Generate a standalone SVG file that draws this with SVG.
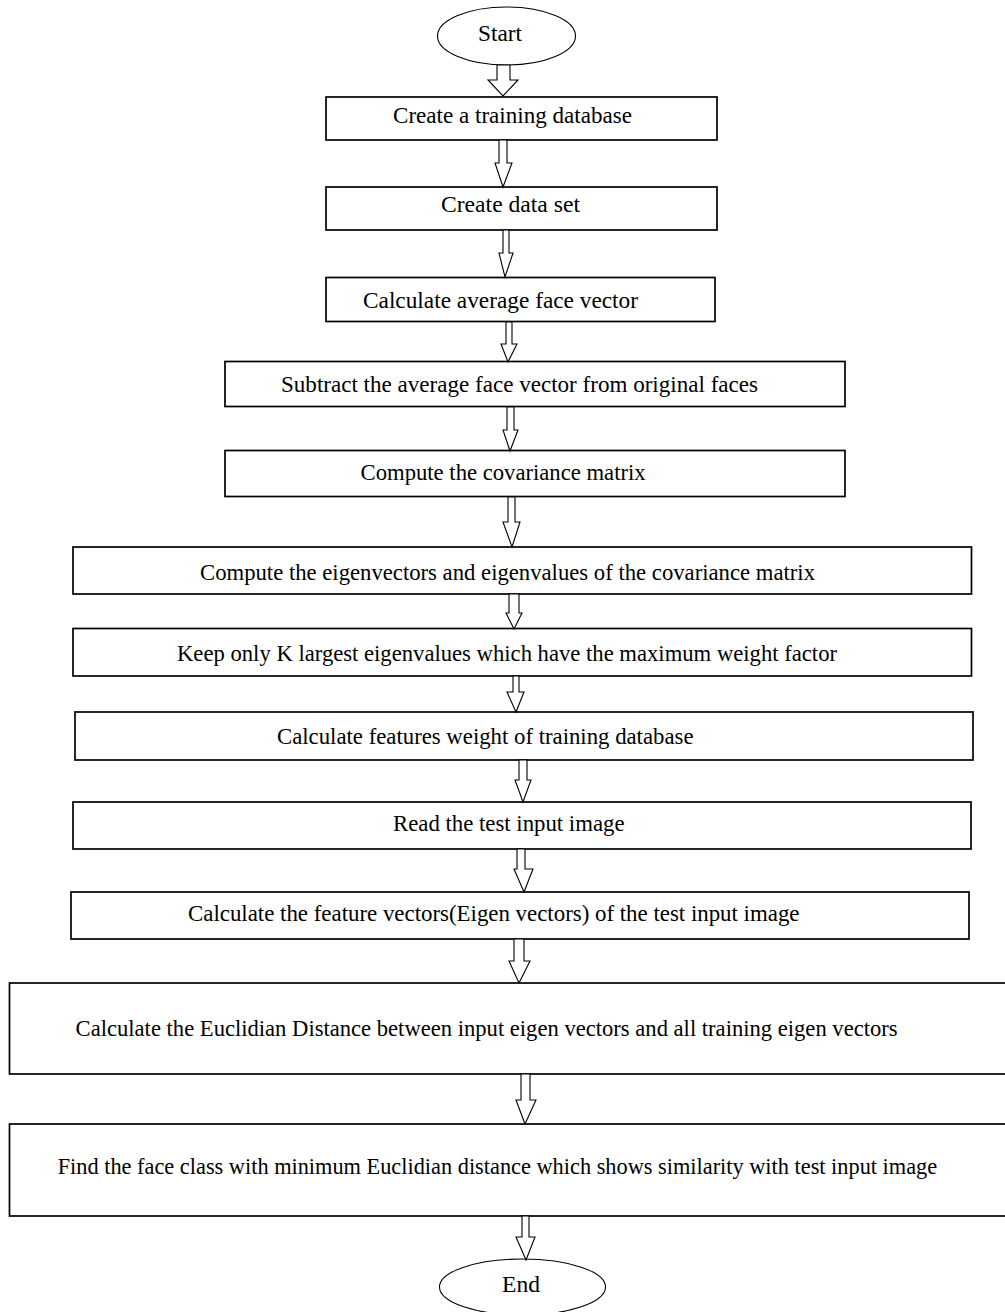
<svg xmlns="http://www.w3.org/2000/svg" width="1005" height="1312" viewBox="0 0 1005 1312">
<style>
.box{fill:#fff;stroke:#000;stroke-width:1.7}
.term{fill:#fff;stroke:#000;stroke-width:1.1}
.arr{fill:#fff;stroke:#000;stroke-width:1.1;stroke-linejoin:miter}
.t{font-family:"Liberation Serif","Times New Roman",serif;font-size:24px;fill:#000}
</style>
<rect width="1005" height="1312" fill="#fff"/>
<g id="start"><ellipse class="term" cx="506.5" cy="36" rx="69" ry="29"/><text class="t" x="478" y="41" textLength="44" lengthAdjust="spacingAndGlyphs">Start</text></g>
<g id="n1"><rect class="box" x="326" y="97" width="391" height="43"/><text class="t" x="393" y="123.3" textLength="239" lengthAdjust="spacingAndGlyphs">Create a training database</text></g>
<g id="n2"><rect class="box" x="326" y="187" width="391" height="43"/><text class="t" x="441" y="212" textLength="139" lengthAdjust="spacingAndGlyphs">Create data set</text></g>
<g id="n3"><rect class="box" x="326" y="277.5" width="389" height="44"/><text class="t" x="363" y="307.5" textLength="275" lengthAdjust="spacingAndGlyphs">Calculate average face vector</text></g>
<g id="n4"><rect class="box" x="225" y="361.5" width="620" height="45"/><text class="t" x="281" y="392" textLength="477" lengthAdjust="spacingAndGlyphs">Subtract the average face vector from original faces</text></g>
<g id="n5"><rect class="box" x="225" y="450.5" width="620" height="46"/><text class="t" x="360.6" y="480" textLength="285" lengthAdjust="spacingAndGlyphs">Compute the covariance matrix</text></g>
<g id="n6"><rect class="box" x="73" y="547" width="898.5" height="47"/><text class="t" x="200" y="580" textLength="615" lengthAdjust="spacingAndGlyphs">Compute the eigenvectors and eigenvalues of the covariance matrix</text></g>
<g id="n7"><rect class="box" x="73" y="628.5" width="898.5" height="47.5"/><text class="t" x="177" y="661" textLength="660" lengthAdjust="spacingAndGlyphs">Keep only K largest eigenvalues which have the maximum weight factor</text></g>
<g id="n8"><rect class="box" x="75" y="712" width="898" height="48"/><text class="t" x="277" y="743.5" textLength="416.5" lengthAdjust="spacingAndGlyphs">Calculate features weight of training database</text></g>
<g id="n9"><rect class="box" x="73" y="802" width="898" height="47"/><text class="t" x="393" y="831" textLength="231.5" lengthAdjust="spacingAndGlyphs">Read the test input image</text></g>
<g id="n10"><rect class="box" x="71" y="892" width="898" height="47"/><text class="t" x="188" y="921" textLength="611.5" lengthAdjust="spacingAndGlyphs">Calculate the feature vectors(Eigen vectors) of the test input image</text></g>
<g id="n11"><rect class="box" x="9.5" y="983" width="1000" height="91"/><text class="t" x="75.6" y="1036" textLength="822" lengthAdjust="spacingAndGlyphs">Calculate the Euclidian Distance between input eigen vectors and all training eigen vectors</text></g>
<g id="n12"><rect class="box" x="9.5" y="1124" width="1000" height="92"/><text class="t" x="57.7" y="1173.5" textLength="879.5" lengthAdjust="spacingAndGlyphs">Find the face class with minimum Euclidian distance which shows similarity with test input image</text></g>
<g id="end"><ellipse class="term" cx="522.5" cy="1287" rx="83" ry="28"/><text class="t" x="502" y="1292" textLength="38" lengthAdjust="spacingAndGlyphs">End</text></g>
<g id="connectors">
<polygon class="arr" points="497,65 510,65 510,80 518,80 503,96 488,80 497,80"/>
<polygon class="arr" points="499,140 507,140 507,163 512,163 503,187 495,163 499,163"/>
<polygon class="arr" points="503,230 509,230 509,253 513,253 505,277 499,253 503,253"/>
<polygon class="arr" points="506,322 512,322 512,344 517,344 508,362 501,344 506,344"/>
<polygon class="arr" points="507,407 514,407 514,430 518,430 510,451 503,430 507,430"/>
<polygon class="arr" points="508,497 515,497 515,522 520,522 512,547 503,522 508,522"/>
<polygon class="arr" points="509,594 519,594 519,613 522,613 514,629 506,613 509,613"/>
<polygon class="arr" points="513,676 519,676 519,692 524,692 516,712 507,692 513,692"/>
<polygon class="arr" points="519,760 527,760 527,780 531,780 523,802 515,780 519,780"/>
<polygon class="arr" points="517,849 525,849 525,869 533,869 524,892 514,869 517,869"/>
<polygon class="arr" points="514,939 524,939 524,961 530,961 519,983 509,961 514,961"/>
<polygon class="arr" points="521,1074 530,1074 530,1100 536,1100 525,1124 516,1100 521,1100"/>
<polygon class="arr" points="522,1216 529,1216 529,1237 535,1237 526,1260 516,1237 522,1237"/>
</g>
</svg>
